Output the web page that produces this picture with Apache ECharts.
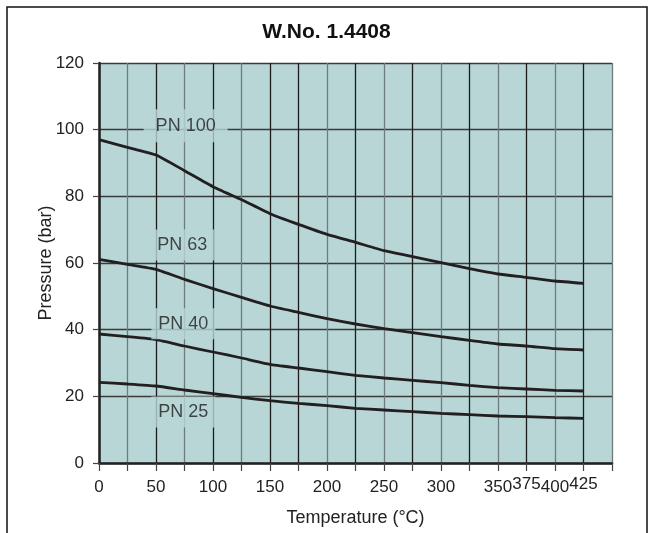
<!DOCTYPE html>
<html>
<head>
<meta charset="utf-8">
<script src="https://cdn.jsdelivr.net/npm/echarts@6/dist/echarts.min.js"></script>
<style>
html,body{margin:0;padding:0;background:#fff;}
#chart{width:653px;height:533px;}
</style>
</head>
<body>
<div id="chart"></div>
<script>
// ---- data ----
var temperatures = [0,25,50,75,100,125,150,175,200,225,250,275,300,325,350,375,400,425];
var pn100 = [97.0,94.7,92.4,87.7,82.9,79.0,74.8,71.6,68.6,66.2,63.7,61.9,60.1,58.3,56.7,55.7,54.6,53.9];
var pn63  = [61.1,59.6,58.1,55.1,52.3,49.7,47.1,45.2,43.3,41.7,40.3,39.1,37.9,36.8,35.7,35.1,34.3,33.9];
var pn40  = [38.7,37.9,37.0,35.1,33.3,31.5,29.6,28.5,27.4,26.3,25.5,24.8,24.1,23.3,22.6,22.2,21.8,21.6];
var pn25  = [24.2,23.7,23.1,21.9,20.8,19.7,18.7,17.9,17.2,16.4,15.9,15.4,14.9,14.5,14.1,13.9,13.6,13.4];
var seriesNames = ['PN 100','PN 63','PN 40','PN 25'];
var labelTemps = [76, 73, 74, 74];
var labelPressures = [101.2, 65.4, 41.8, 15.3];
var xTickLabels = [0,50,100,150,200,250,300,350,375,400,425];
var xRaisedLabels = [375,425];
var yTicks = [0,20,40,60,80,100,120];
var titleText = 'W.No. 1.4408';
var xName = 'Temperature (°C)';
var yName = 'Pressure (bar)';

// ---- chart ----
var FONT = '"Liberation Sans", Arial, Helvetica, sans-serif';
var chart = echarts.init(document.getElementById('chart'), null, {renderer:'canvas'});

function pairs(vals){ return temperatures.map(function(t,i){ return [t, vals[i]]; }); }
var allVals = [pn100, pn63, pn40, pn25];

var G = '#6f7b7b', B = '#1c1c1c';
var vColors = [B,G,B,G,B,G,B,B,G,B,G,B,G,B,G,B,G,B,G];

var series = allVals.map(function(v,i){
  return {
    name: seriesNames[i], type:'line', data: pairs(v), smooth:0.15,
    symbol:'none', lineStyle:{color:'#231f20', width:2.8}, z:3, silent:true
  };
});
series.push({
  type:'scatter', symbolSize:0, z:4, silent:true,
  data: seriesNames.map(function(n,i){
    return {value:[labelTemps[i], labelPressures[i]], name:n,
      label:{padding: i===0 ? [8,12,7,12] : [7,7,6,7]}};
  }),
  label:{show:true, position:'inside', formatter:function(p){return p.name;},
    fontFamily:FONT, fontSize:18, color:'#1e1e1e', backgroundColor:'#b8d6d6',
    textBorderWidth:0, textBorderColor:'transparent', textShadowBlur:0}
});

chart.setOption({
  animation:false,
  backgroundColor:'#ffffff',
  title:{text:titleText, left:'center', top:17,
    textStyle:{fontFamily:FONT, fontSize:21, fontWeight:'bold', color:'#111'}},
  graphic:[{type:'rect', shape:{x:7,y:7,width:640,height:560},
    style:{fill:'none', stroke:'#111', lineWidth:1.5}, z:100, silent:true}],
  grid:{left:99, top:63, right:41, bottom:70, show:true, backgroundColor:'#b8d6d6', borderWidth:0},
  xAxis:{
    type:'value', min:0, max:450, interval:25,
    name:xName, nameLocation:'middle', nameGap:46, nameMoveOverlap:false,
    nameTextStyle:{fontFamily:FONT, fontSize:18, color:'#222'},
    axisLine:{show:true, onZero:false, lineStyle:{color:'#222', width:2.5}},
    axisTick:{show:true, length:8, lineStyle:{color:'#444', width:1.2}},
    axisLabel:{margin:13, fontFamily:FONT, fontSize:17, color:'#222', showMaxLabel:true, hideOverlap:false,
      formatter:function(v){
        if (xTickLabels.indexOf(v) < 0) return '';
        return (xRaisedLabels.indexOf(v) >= 0 ? '{u|' : '{n|') + v + '}';
      },
      rich:{n:{fontFamily:FONT, fontSize:17, color:'#222', padding:[3,0,0,0]},
            u:{fontFamily:FONT, fontSize:17, color:'#222', padding:[0,0,0,0]}}},
    splitLine:{show:true, showMinLine:true, showMaxLine:true, lineStyle:{color:vColors, width:1.3}}
  },
  yAxis:{
    type:'value', min:yTicks[0], max:yTicks[yTicks.length-1], interval:20,
    name:yName, nameLocation:'middle', nameGap:44, nameMoveOverlap:false,
    nameTextStyle:{fontFamily:FONT, fontSize:18, color:'#222'},
    axisLine:{show:true, lineStyle:{color:'#222', width:2.5}},
    axisTick:{show:true, length:6, lineStyle:{color:'#444', width:1.2}},
    axisLabel:{margin:15, fontFamily:FONT, fontSize:17, color:'#222'},
    splitLine:{show:true, lineStyle:{color:'#3a3a3a', width:1.3}}
  },
  series:series
});
</script>
</body>
</html>
